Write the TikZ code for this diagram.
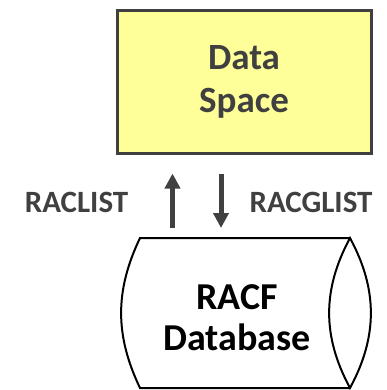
\documentclass[tikz,border=0pt]{standalone}
\usepackage{fontspec}
\setmainfont{Carlito}
\usepackage{tikz}
\usetikzlibrary{shapes.geometric,arrows.meta,positioning}
\definecolor{ink}{HTML}{404040}
\definecolor{paleyellow}{HTML}{FFFF99}

\begin{document}
\begin{tikzpicture}[
    x=1pt, y=1pt,
    spacebox/.style={rectangle, draw=ink, line width=3pt, fill=paleyellow, text=ink,
        minimum width=254pt, minimum height=142pt, align=center,
        font=\fontsize{37}{43}\selectfont\bfseries},
    dbline/.style={draw=black, line width=2pt, line join=miter},
    dbtext/.style={align=center, font=\fontsize{38}{41}\selectfont\bfseries},
    cmd/.style={text=ink, font=\fontsize{31}{36}\selectfont\bfseries},
    flow/.style={draw=ink, line width=5pt, -{Triangle[length=15pt,width=15pt]}}
]
\useasboundingbox (0,0) rectangle (386,-390);

% Data space on top
\node[spacebox] (space) at (244,-82) {Data\\Space};

% RACF database below (lying cylinder)
\coordinate (dbtop) at (245,-238);
\draw[dbline] (350,-238) -- (140,-238) to[bend right=25.5] (140,-388) -- (350,-388);
\draw[dbline] (350,-238) to[bend right=28.4] (350,-388) to[bend right=28.4] cycle;
\node[dbtext] (dblabel) at (237,-318) {RACF\\Database};

% Commands
\node[cmd] (raclist) at (76.5,-202) {RACLIST};
\node[cmd] (racglist) at (311,-202) {RACGLIST};

% Arrows
\coordinate (upx) at (172.5,0);
\coordinate (downx) at (221,0);
\draw[flow, shorten <=10pt, shorten >=19pt] (dbtop -| upx) -- (space.south -| upx);
\draw[flow, shorten <=19pt, shorten >=10pt] (space.south -| downx) -- (dbtop -| downx);

\end{tikzpicture}
\end{document}
